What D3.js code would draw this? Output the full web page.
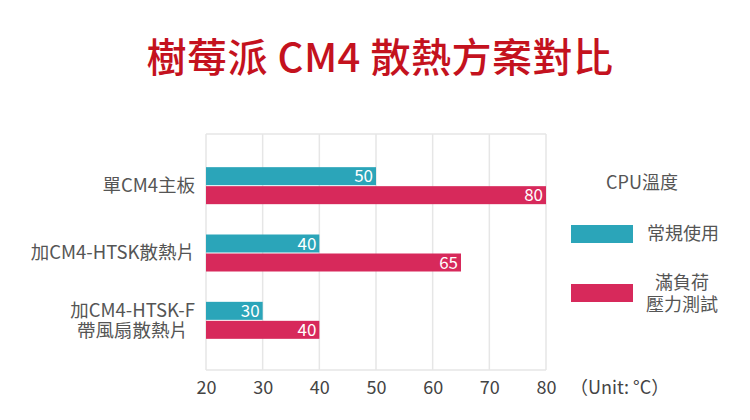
<!DOCTYPE html>
<html><head><meta charset="utf-8">
<script src="https://cdn.jsdelivr.net/npm/d3@7"></script>
<style>
html,body{margin:0;padding:0;background:#fff;}
svg text{font-family:"Noto Sans CJK TC","Noto Sans",sans-serif;}
</style></head>
<body><svg id="c" width="750" height="420"></svg>
<script>
const title = "樹莓派 CM4 散熱方案對比";
const categories = ["單CM4主板", "加CM4-HTSK散熱片", "加CM4-HTSK-F\n帶風扇散熱片"];
const seriesNames = ["常規使用", "滿負荷\n壓力測試"];
const normalUse = [50, 40, 30];
const stressTest = [80, 65, 40];
const ticks = [20, 30, 40, 50, 60, 70, 80];
const legendTitle = "CPU溫度";
const unitLabel = "（Unit: °C）";
const colors = ["#2ba5b9", "#d7295b"];

const svg = d3.select("#c");
svg.append("rect").attr("width",750).attr("height",420).attr("fill","#fff");

svg.append("text").attr("x",380).attr("y",72).attr("text-anchor","middle")
  .attr("font-size",40).attr("font-weight",500).attr("fill","#c4121e")
  .attr("letter-spacing",0.5).text(title);

const x = d3.scaleLinear().domain([20,80]).range([206,546]);
const plotTop = 134, plotBottom = 370;
const y = d3.scaleBand().domain(categories).range([152,354]);
const barH = 18, gap = 1;

// grid
const g = svg.append("g");
g.selectAll("line.v").data(ticks).join("line")
  .attr("x1",d=>x(d)).attr("x2",d=>x(d)).attr("y1",plotTop).attr("y2",plotBottom)
  .attr("stroke","#e6e6e6").attr("stroke-width",1.5);
g.append("line").attr("x1",x(20)).attr("x2",x(80)).attr("y1",plotTop).attr("y2",plotTop)
  .attr("stroke","#e6e6e6").attr("stroke-width",1.5);
g.append("line").attr("x1",x(20)).attr("x2",x(80)).attr("y1",plotBottom).attr("y2",plotBottom)
  .attr("stroke","#e6e6e6").attr("stroke-width",1.5);

// axis tick labels
const axis = d3.axisBottom(x).tickValues(ticks).tickSize(0).tickPadding(0);
const ax = svg.append("g").attr("transform",`translate(0,${plotBottom+24})`).call(axis);
ax.select(".domain").remove();
ax.selectAll("text").attr("font-size",18).attr("fill","#444")
  .attr("font-family",'"Noto Sans CJK TC","Noto Sans",sans-serif').attr("dy",0);
svg.append("text").attr("x",570).attr("y",plotBottom+24).attr("font-size",18)
  .attr("fill","#444").text(unitLabel);

// bars
const series = [normalUse, stressTest];
series.forEach((vals, si) => {
  categories.forEach((c, i) => {
    const cy = y(c) + y.bandwidth()/2;
    const top = si === 0 ? cy - barH - gap/2 : cy + gap/2;
    svg.append("rect").attr("x",x(20)).attr("y",top)
      .attr("width",x(vals[i])-x(20)).attr("height",barH).attr("fill",colors[si]);
    svg.append("text").attr("x",x(vals[i])-3).attr("y",top+barH/2+6)
      .attr("text-anchor","end").attr("font-size",17).attr("fill","#fff").text(vals[i]);
  });
});

// category labels
categories.forEach(c => {
  const cy = y(c) + y.bandwidth()/2;
  const lines = c.split("\n");
  if (lines.length === 1) {
    svg.append("text").attr("x",195).attr("y",cy+6).attr("text-anchor","end")
      .attr("font-size",18.5).attr("fill","#555").text(c);
  } else {
    const probe = svg.append("text").attr("font-size",18.5).text(lines[0]);
    const w = probe.node().getComputedTextLength();
    probe.remove();
    const t = svg.append("text").attr("text-anchor","middle")
      .attr("font-size",18.5).attr("fill","#555");
    lines.forEach((l, k) => {
      t.append("tspan").attr("x",195-w/2).attr("y",cy-3+k*20).text(l);
    });
  }
});

// legend
svg.append("text").attr("x",642).attr("y",189).attr("text-anchor","middle")
  .attr("font-size",18).attr("fill","#555").text(legendTitle);
const legY = [225, 284];
seriesNames.forEach((n, i) => {
  svg.append("rect").attr("x",571).attr("y",legY[i]).attr("width",62).attr("height",18).attr("fill",colors[i]);
  const lines = n.split("\n");
  if (lines.length === 1) {
    svg.append("text").attr("x",647).attr("y",legY[i]+15).attr("font-size",18)
      .attr("fill","#555").text(n);
  } else {
    const t = svg.append("text").attr("text-anchor","middle").attr("font-size",18).attr("fill","#555");
    lines.forEach((l, k) => {
      t.append("tspan").attr("x",682).attr("y",legY[i]+5+k*22).text(l);
    });
  }
});
</script></body></html>
